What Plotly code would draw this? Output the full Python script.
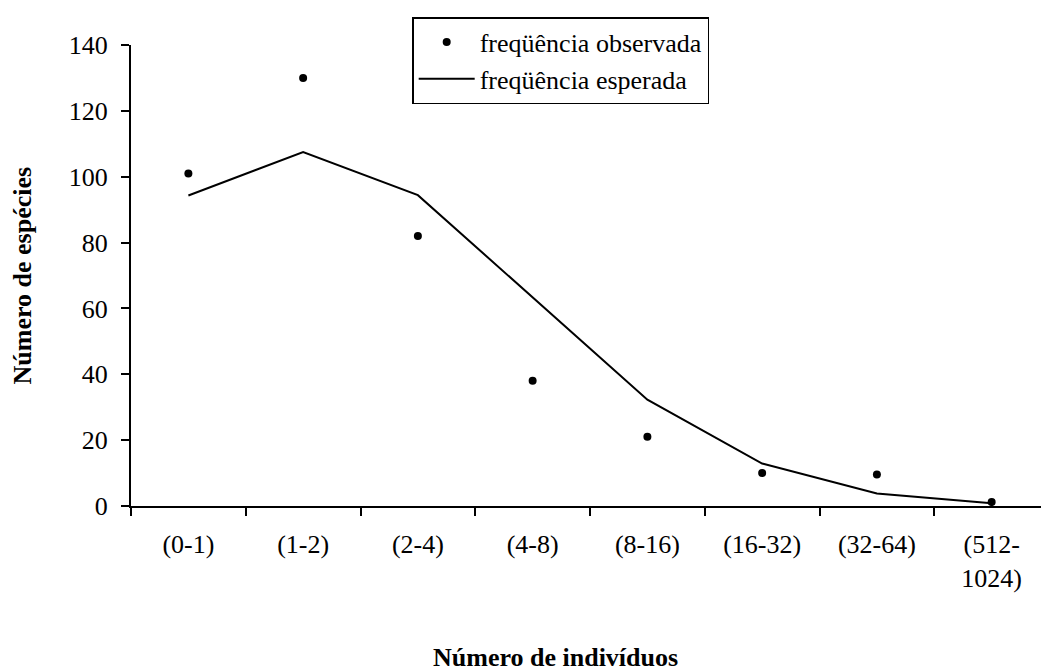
import plotly.graph_objects as go

# Abundance classes (octaves) and species counts
classes = ["(0-1)", "(1-2)", "(2-4)", "(4-8)", "(8-16)", "(16-32)", "(32-64)", "(512-<br>1024)"]
observed = [101, 130, 82, 38, 21, 10, 9.6, 1.2]
expected = [94.3, 107.5, 94.4, 63.3, 32.3, 12.9, 3.8, 0.8]

FONT = "Liberation Serif"
FS = 26

fig = go.Figure()
fig.add_trace(go.Scatter(
    x=classes, y=observed, mode="markers", name="freqüência observada",
    marker=dict(color="black", size=8),
))
fig.add_trace(go.Scatter(
    x=classes, y=expected, mode="lines", name="freqüência esperada",
    line=dict(color="black", width=2),
))

fig.update_layout(
    width=1041, height=671,
    margin=dict(l=131, r=0, t=45, b=165),
    paper_bgcolor="white", plot_bgcolor="white",
    font=dict(family=FONT, size=FS, color="black"),
    showlegend=True,
    legend=dict(
        x=0.309, y=1.0607, xanchor="left", yanchor="top",
        bordercolor="black", borderwidth=1.5, bgcolor="white",
        itemwidth=56,
        font=dict(family=FONT, size=FS, color="black"),
    ),
    xaxis=dict(
        type="category", range=[-0.5, 7.43],
        tickson="boundaries", ticks="outside", ticklen=8, tickwidth=2,
        tickcolor="black", showline=True, linecolor="black", linewidth=2,
        showgrid=False, zeroline=False, ticklabelstandoff=14,
        tickfont=dict(family=FONT, size=FS, color="black"),
    ),
    yaxis=dict(
        range=[0, 140], tickvals=[0, 20, 40, 60, 80, 100, 120, 140],
        ticks="outside", ticklen=8, tickwidth=2, tickcolor="black",
        showline=True, linecolor="black", linewidth=2,
        showgrid=False, zeroline=False, ticklabelstandoff=8,
        tickfont=dict(family=FONT, size=FS, color="black"),
    ),
    annotations=[
        dict(text="<b>Número de espécies</b>", xref="paper", yref="paper",
             x=-0.1187, y=0.5, xanchor="center", yanchor="middle",
             textangle=-90, showarrow=False,
             font=dict(family=FONT, size=FS, color="black")),
        dict(text="<b>Número de indivíduos</b>", xref="paper", yref="paper",
             x=0.467, y=-0.3297, xanchor="center", yanchor="middle",
             showarrow=False,
             font=dict(family=FONT, size=FS, color="black")),
    ],
)

fig.write_html("out.html")
